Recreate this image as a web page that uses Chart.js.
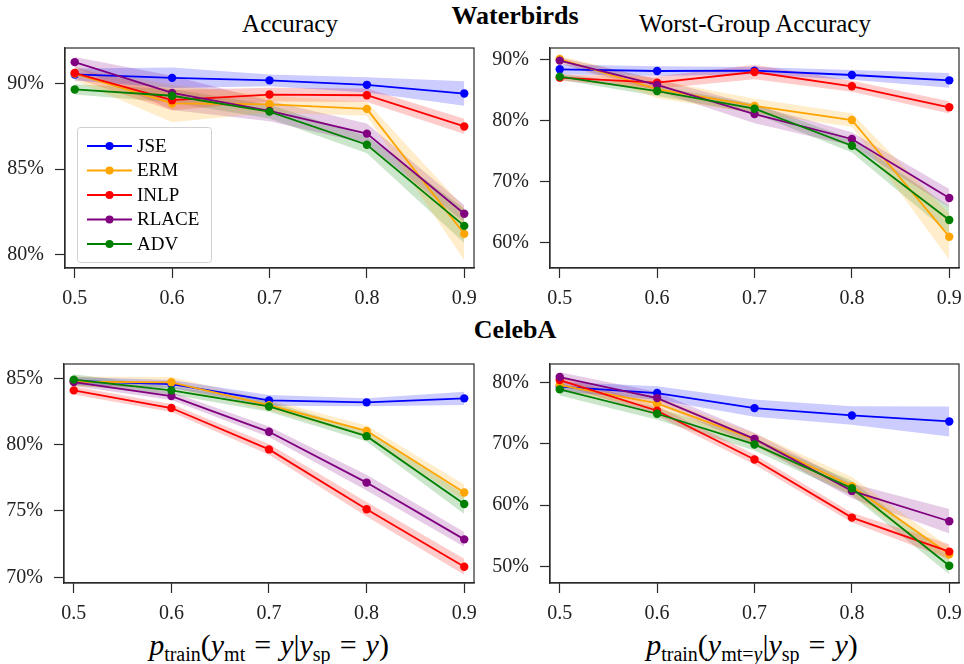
<!DOCTYPE html>
<html>
<head>
<meta charset="utf-8">
<script src="https://cdn.jsdelivr.net/npm/chart.js@4.4.1/dist/chart.umd.min.js"></script>
<style>
  body { margin: 0; background: #fff; width: 964px; height: 664px; position: relative; overflow: hidden; font-family: "Liberation Serif", serif; color: #000; }
  .panel { position: absolute; }
  .txt { position: absolute; white-space: nowrap; transform: translateX(-50%); }
  .sup { font-weight: bold; font-size: 26px; }
  .ttl { font-size: 25px; }
  .xl { font-size: 30px; font-style: italic; }
  .xl sub { font-style: normal; font-size: 20px; vertical-align: -6px; }
  .xl .r { font-style: normal; }
  .xl .eq { font-style: normal; margin: 0 9px; }
</style>
</head>
<body>
<div class="txt sup" style="left:515px; top:1px;">Waterbirds</div>
<div class="txt ttl" style="left:290px; top:10px;">Accuracy</div>
<div class="txt ttl" style="left:755px; top:10px;">Worst-Group Accuracy</div>
<div class="txt sup" style="left:515px; top:315px;">CelebA</div>
<div class="txt xl" style="left:269px; top:628px;">p<sub>train</sub><span class="r">(</span>y<sub>mt</sub><span class="eq">=</span>y<span class="r">|</span>y<sub>sp</sub><span class="eq">=</span>y<span class="r">)</span></div>
<div class="txt xl" style="left:752px; top:628px;">p<sub>train</sub><span class="r">(</span>y<sub>mt=<i>y</i></sub><span class="r">|</span>y<sub>sp</sub><span class="eq">=</span>y<span class="r">)</span></div>

<div class="panel" style="left:0px; top:18px;"><canvas id="wbAcc" width="494" height="300"></canvas></div>
<div class="panel" style="left:484px; top:18px;"><canvas id="wbWga" width="495" height="300"></canvas></div>
<div class="panel" style="left:0px; top:334px;"><canvas id="cbAcc" width="494" height="300"></canvas></div>
<div class="panel" style="left:484px; top:334px;"><canvas id="cbWga" width="495" height="300"></canvas></div>

<script>
// x positions: p_train
const xValues = [0.5, 0.6, 0.7, 0.8, 0.9];
const methods = ['JSE', 'ERM', 'INLP', 'RLACE', 'ADV'];
const colors = ['#0000ff', '#ffa500', '#ff0000', '#800080', '#008000'];
const bandColors = ['rgba(0,0,255,0.2)', 'rgba(255,165,0,0.2)', 'rgba(255,0,0,0.2)', 'rgba(128,0,128,0.2)', 'rgba(0,128,0,0.2)'];

// rows follow `methods`, values in %
const wbAccMean = [
  [90.55, 90.35, 90.2, 89.94, 89.43],
  [90.6, 88.85, 88.8, 88.53, 81.2],
  [90.63, 89.04, 89.37, 89.33, 87.5],
  [91.27, 89.47, 88.41, 87.08, 82.38],
  [89.67, 89.3, 88.37, 86.43, 81.67]
];
const wbAccStd = [
  [0.35, 0.6, 0.35, 0.45, 0.72],
  [0.4, 1.1, 0.5, 0.4, 1.55],
  [0.3, 0.6, 0.4, 0.4, 0.45],
  [0.3, 1.0, 0.6, 0.6, 0.5],
  [0.3, 0.4, 0.4, 0.5, 1.0]
];
const wbWgaMean = [
  [88.47, 88.19, 88.25, 87.54, 86.66],
  [90.16, 85.2, 82.45, 80.15, 60.99],
  [87.1, 86.28, 88.03, 85.68, 82.23],
  [89.9, 85.9, 81.13, 77.03, 67.34],
  [87.27, 84.9, 82.0, 75.93, 63.73]
];
const wbWgaStd = [
  [0.8, 0.8, 0.6, 0.8, 1.2],
  [0.5, 1.5, 1.2, 1.1, 3.8],
  [0.5, 1.0, 1.2, 0.9, 1.0],
  [0.5, 1.0, 1.5, 1.1, 1.5],
  [0.5, 0.8, 0.8, 1.1, 2.2]
];
const cbAccMean = [
  [84.8, 84.57, 83.34, 83.19, 83.49],
  [84.74, 84.7, 82.98, 81.04, 76.39],
  [84.09, 82.76, 79.64, 75.13, 70.8],
  [84.72, 83.66, 80.97, 77.14, 72.86],
  [84.9, 84.09, 82.88, 80.64, 75.53]
];
const cbAccStd = [
  [0.3, 0.3, 0.4, 0.3, 0.5],
  [0.4, 0.4, 0.4, 0.4, 0.6],
  [0.3, 0.3, 0.4, 0.55, 0.6],
  [0.3, 0.3, 0.4, 0.6, 0.55],
  [0.4, 0.3, 0.4, 0.4, 0.75]
];
const cbWgaMean = [
  [79.35, 78.31, 75.85, 74.65, 73.67],
  [79.62, 76.62, 70.73, 63.09, 51.96],
  [80.44, 75.42, 67.45, 57.96, 52.4],
  [80.93, 77.49, 70.83, 62.32, 57.36],
  [78.91, 74.93, 69.91, 62.76, 50.1]
];
const cbWgaStd = [
  [0.8, 1.1, 1.4, 1.5, 2.45],
  [0.8, 1.0, 1.0, 1.5, 1.2],
  [0.7, 0.8, 0.8, 0.8, 1.2],
  [0.8, 1.0, 1.0, 1.2, 2.0],
  [1.0, 1.0, 1.0, 1.2, 1.4]
];

const wbAccTicks = [80, 85, 90];
const wbWgaTicks = [60, 70, 80, 90];
const cbAccTicks = [70, 75, 80, 85];
const cbWgaTicks = [50, 60, 70, 80];

const tickFont = { family: 'Liberation Serif', size: 20 };
const axisColor = '#2a2a2a';

// top + right spines like matplotlib
const boxPlugin = {
  id: 'box',
  afterDatasetsDraw(chart) {
    const a = chart.chartArea, ctx = chart.ctx;
    ctx.save();
    ctx.strokeStyle = axisColor;
    ctx.lineWidth = 1.2;
    ctx.strokeRect(a.left, a.top, a.right - a.left, a.bottom - a.top);
    ctx.restore();
  }
};

// legend with line + dot, only on the first panel
const legendPlugin = {
  id: 'lineLegend',
  afterDraw(chart, args, opts) {
    if (!opts.show) return;
    const a = chart.chartArea, ctx = chart.ctx;
    const x0 = a.left + 12, y0 = a.top + 79, w = 134, h = 135;
    ctx.save();
    ctx.fillStyle = 'rgba(255,255,255,0.8)';
    ctx.strokeStyle = '#d0d0d0';
    ctx.lineWidth = 1;
    ctx.beginPath();
    ctx.roundRect(x0 + 0.5, y0 + 0.5, w, h, 3);
    ctx.fill();
    ctx.stroke();
    ctx.font = '19px "Liberation Serif"';
    ctx.textBaseline = 'middle';
    methods.forEach((m, i) => {
      const y = y0 + 19 + i * 24.5;
      ctx.strokeStyle = colors[i];
      ctx.lineWidth = 1.8;
      ctx.beginPath();
      ctx.moveTo(x0 + 10, y);
      ctx.lineTo(x0 + 55, y);
      ctx.stroke();
      ctx.fillStyle = colors[i];
      ctx.beginPath();
      ctx.arc(x0 + 32.5, y, 4, 0, Math.PI * 2);
      ctx.fill();
      ctx.fillStyle = '#000';
      ctx.fillText(m, x0 + 60, y + 1);
    });
    ctx.restore();
  }
};

// padding top 30 / right 20 is larger than the tick label overhang, so the plot box lands where we want it
function makePanel(id, means, stds, yMin, yMax, yTicks, yWidth, xHeight, showLegend) {
  const datasets = [];
  methods.forEach((m, i) => {
    datasets.push({
      label: m + ' low',
      data: xValues.map((x, j) => ({ x: x, y: means[i][j] - stds[i][j] })),
      borderWidth: 0, pointRadius: 0, fill: false, order: 20
    });
    datasets.push({
      label: m + ' high',
      data: xValues.map((x, j) => ({ x: x, y: means[i][j] + stds[i][j] })),
      borderWidth: 0, pointRadius: 0, fill: '-1', backgroundColor: bandColors[i], order: 20
    });
  });
  methods.forEach((m, i) => {
    datasets.push({
      label: m,
      data: xValues.map((x, j) => ({ x: x, y: means[i][j] })),
      borderColor: colors[i],
      backgroundColor: colors[i],
      borderWidth: 1.8,
      pointRadius: 4.2,
      pointBorderWidth: 0,
      pointBackgroundColor: colors[i],
      fill: false,
      tension: 0,
      order: 4 - i
    });
  });

  new Chart(document.getElementById(id), {
    type: 'line',
    data: { datasets },
    options: {
      responsive: false,
      animation: false,
      layout: { padding: { top: 30, right: 20, left: 0, bottom: 0 }, autoPadding: false },
      plugins: {
        legend: { display: false },
        tooltip: { enabled: false },
        filler: { drawTime: 'beforeDatasetsDraw' },
        lineLegend: { show: showLegend }
      },
      scales: {
        x: {
          type: 'linear', min: 0.49, max: 0.91,
          afterBuildTicks: s => { s.ticks = xValues.map(v => ({ value: v })); },
          afterFit: s => { s.height = xHeight; },
          ticks: { callback: v => v.toFixed(1), font: tickFont, color: '#222', padding: 9, maxRotation: 0, autoSkip: false },
          grid: { drawOnChartArea: false, tickLength: 10, color: axisColor, tickWidth: 1.2 },
          border: { color: axisColor, width: 1.2 }
        },
        y: {
          min: yMin, max: yMax,
          afterBuildTicks: s => { s.ticks = yTicks.map(v => ({ value: v })); },
          afterFit: s => { s.width = yWidth; },
          ticks: { callback: v => v + '%', font: tickFont, color: '#222', padding: 11 },
          grid: { drawOnChartArea: false, tickLength: 10, color: axisColor, tickWidth: 1.2 },
          border: { color: axisColor, width: 1.2 }
        }
      }
    },
    plugins: [boxPlugin, legendPlugin]
  });
}

makePanel('wbAcc', wbAccMean, wbAccStd, 79.2, 92.1, wbAccTicks, 65, 50, true);
makePanel('wbWga', wbWgaMean, wbWgaStd, 55.85, 91.97, wbWgaTicks, 66, 50, false);
makePanel('cbAcc', cbAccMean, cbAccStd, 69.57, 86.08, cbAccTicks, 64, 51, false);
makePanel('cbWga', cbWgaMean, cbWgaStd, 47.27, 83.06, cbWgaTicks, 66, 51, false);
</script>
</body>
</html>
